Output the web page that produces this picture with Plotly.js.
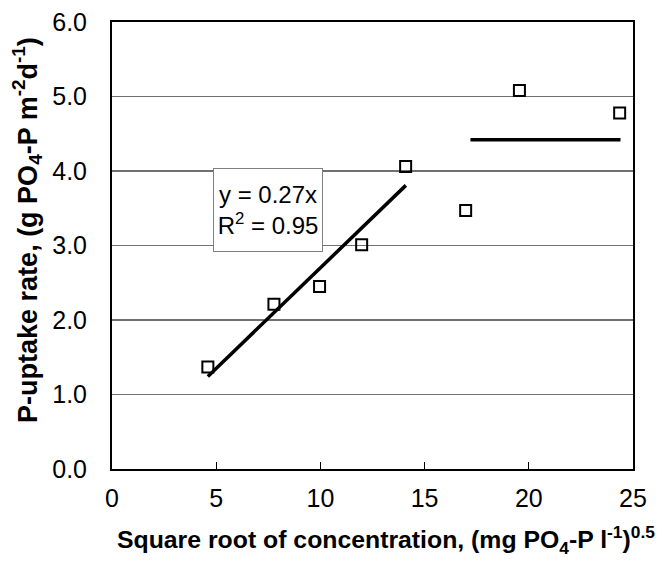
<!DOCTYPE html>
<html>
<head>
<meta charset="utf-8">
<script src="https://cdn.plot.ly/plotly-3.0.1.min.js"></script>
<style>html,body{margin:0;padding:0;background:#fff;}#chart{width:670px;height:563px;}</style>
</head>
<body>
<div id="chart"></div>
<script>
// Observed data
const sqrtConc = [4.6, 7.77, 9.96, 11.98, 14.09, 16.97, 19.55, 24.36];
const uptake   = [1.37, 2.21, 2.45, 3.01, 4.06, 3.47, 5.08, 4.78];
// Linear fit (through origin) over the rising part
const fitSlope = 0.27;
const fitX = [4.6, 14.1];
// Plateau line
const plateauX = [17.2, 24.4];
const plateauLevel = 4.42;
// Axis ticks
const xTicks = [0, 5, 10, 15, 20, 25];
const yTicks = [0, 1, 2, 3, 4, 5, 6];
const yTickLabels = ["0.0", "1.0", "2.0", "3.0", "4.0", "5.0", "6.0"];

const fitY = fitX.map(x => fitSlope * x);
const plateauY = plateauX.map(() => plateauLevel);

const font = "Liberation Sans, Arial, sans-serif";

const traces = [
  {x: fitX, y: fitY, mode: 'lines', line: {color: '#000', width: 3.5}, hoverinfo: 'skip'},
  {x: plateauX, y: plateauY, mode: 'lines', line: {color: '#000', width: 3.5}, hoverinfo: 'skip'},
  {x: sqrtConc, y: uptake, mode: 'markers', cliponaxis: false,
   marker: {symbol: 'square-open', size: 11, color: '#000', line: {width: 2, color: '#000'}}}
];

const layout = {
  width: 670, height: 563,
  margin: {l: 112, r: 37, t: 22, b: 94},
  paper_bgcolor: '#fff', plot_bgcolor: '#fff',
  showlegend: false,
  font: {family: font, size: 25, color: '#000'},
  xaxis: {
    range: [0, 25], tickvals: xTicks, ticktext: xTicks.map(String),
    showgrid: false, zeroline: false,
    showline: true, mirror: true, linecolor: '#000', linewidth: 2,
    ticks: 'inside', ticklen: 7, tickwidth: 1, tickcolor: '#000',
    ticklabelstandoff: 6,
    tickfont: {family: font, size: 25, color: '#000'}
  },
  yaxis: {
    range: [0, 6], tickvals: yTicks, ticktext: yTickLabels,
    showgrid: true, gridcolor: '#707070', gridwidth: 1.5, zeroline: false,
    showline: true, mirror: true, linecolor: '#000', linewidth: 2,
    ticks: '', ticklabelstandoff: 18,
    tickfont: {family: font, size: 25, color: '#000'}
  },
  annotations: [
    {
      x: 0.526, y: -0.159, xref: 'paper', yref: 'paper', showarrow: false,
      xanchor: 'center', yanchor: 'middle',
      text: '<b>Square root of concentration, (mg PO<sub>4</sub>-P l<sup>-1</sup>)<sup>0.5</sup></b>',
      font: {family: font, size: 24.8, color: '#000'}
    },
    {
      x: -0.163, y: 0.535, xref: 'paper', yref: 'paper', showarrow: false,
      xanchor: 'center', yanchor: 'middle', textangle: -90,
      text: '<b>P-uptake rate, (g PO<sub>4</sub>-P m<sup>-2</sup>d<sup>-1</sup>)</b>',
      font: {family: font, size: 27, color: '#000'}
    },
    {
      x: 7.47, y: 3.48, xref: 'x', yref: 'y', showarrow: false,
      text: 'y = 0.27x<br>R<sup>2</sup> = 0.95',
      font: {family: font, size: 24, color: '#000'},
      bgcolor: '#fff', bordercolor: '#808080', borderwidth: 1,
      width: 106, height: 80, align: 'center'
    }
  ]
};

Plotly.newPlot('chart', traces, layout, {displayModeBar: false, staticPlot: true});
</script>
</body>
</html>
